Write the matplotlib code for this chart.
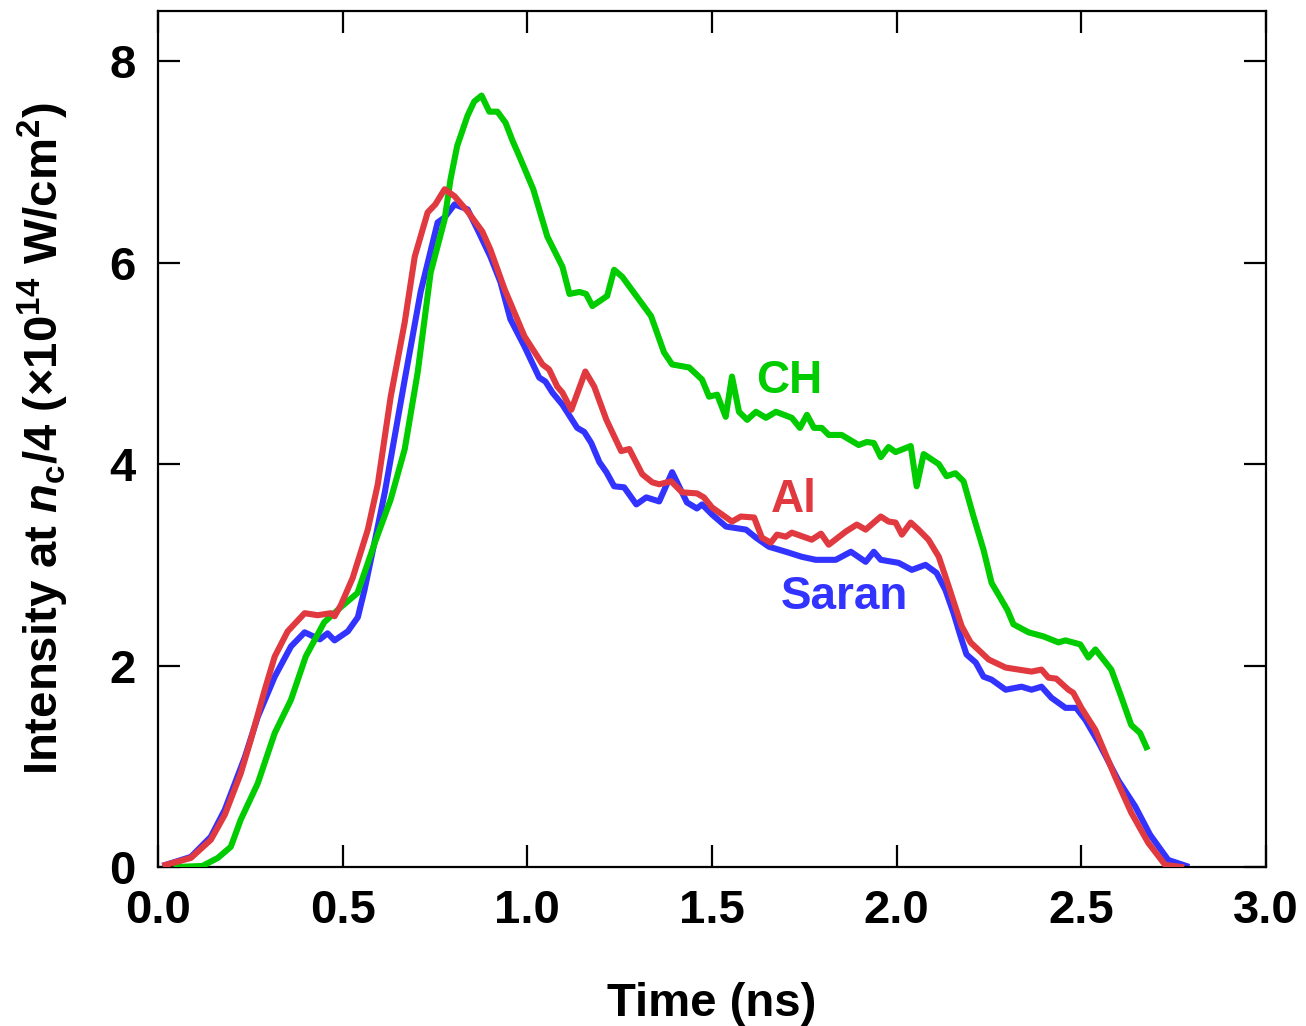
import matplotlib
matplotlib.use("Agg")
import matplotlib.pyplot as plt

# 字体设置
plt.rcParams['font.family'] = ['Liberation Sans', 'DejaVu Sans']
plt.rcParams['font.weight'] = 'bold'
plt.rcParams['mathtext.fontset'] = 'custom'
plt.rcParams['mathtext.rm'] = 'Liberation Sans:bold'
plt.rcParams['mathtext.it'] = 'Liberation Sans:bold:italic'
plt.rcParams['mathtext.bf'] = 'Liberation Sans:bold'

# CH 数据
t_ch = [0.05, 0.12, 0.162, 0.197, 0.224, 0.27, 0.316, 0.36, 0.40, 0.45, 0.495, 0.54,
        0.587, 0.63, 0.668, 0.703, 0.738, 0.776, 0.792, 0.81, 0.838, 0.856, 0.876,
        0.897, 0.919, 0.941, 0.96, 0.978, 1.016, 1.054, 1.095, 1.114, 1.141, 1.159,
        1.176, 1.216, 1.235, 1.257, 1.295, 1.335, 1.370, 1.392, 1.438, 1.473, 1.492,
        1.514, 1.537, 1.554, 1.573, 1.595, 1.619, 1.646, 1.673, 1.716, 1.738, 1.757,
        1.776, 1.797, 1.816, 1.851, 1.897, 1.919, 1.938, 1.957, 1.978, 1.997, 2.038,
        2.054, 2.073, 2.114, 2.135, 2.159, 2.181, 2.208, 2.235, 2.257, 2.281, 2.30,
        2.316, 2.357, 2.397, 2.438, 2.457, 2.497, 2.519, 2.538, 2.581, 2.608, 2.635,
        2.659, 2.676]
y_ch = [0.0, 0.01, 0.09, 0.20, 0.47, 0.83, 1.33, 1.66, 2.09, 2.43, 2.58, 2.72,
        3.22, 3.65, 4.15, 4.91, 5.90, 6.43, 6.83, 7.16, 7.46, 7.60, 7.66,
        7.50, 7.50, 7.39, 7.21, 7.06, 6.73, 6.26, 5.96, 5.69, 5.71, 5.69,
        5.57, 5.67, 5.93, 5.86, 5.67, 5.47, 5.11, 4.99, 4.96, 4.84, 4.67,
        4.69, 4.47, 4.87, 4.52, 4.44, 4.52, 4.46, 4.52, 4.46, 4.36, 4.49,
        4.36, 4.36, 4.29, 4.29, 4.19, 4.22, 4.21, 4.07, 4.17, 4.12, 4.18,
        3.78, 4.10, 4.00, 3.88, 3.91, 3.83, 3.48, 3.15, 2.82, 2.67, 2.55,
        2.41, 2.33, 2.29, 2.23, 2.25, 2.21, 2.08, 2.16, 1.96, 1.69, 1.41,
        1.33, 1.19]

# Al 数据
t_al = [0.02, 0.089, 0.143, 0.181, 0.224, 0.251, 0.289, 0.316, 0.351, 0.397, 0.432,
        0.468, 0.478, 0.495, 0.527, 0.568, 0.595, 0.630, 0.668, 0.695, 0.730, 0.751,
        0.776, 0.803, 0.838, 0.878, 0.900, 0.938, 0.992, 1.041, 1.059, 1.081, 1.095,
        1.119, 1.157, 1.181, 1.214, 1.254, 1.276, 1.311, 1.338, 1.357, 1.389, 1.419,
        1.459, 1.478, 1.500, 1.554, 1.578, 1.614, 1.635, 1.659, 1.676, 1.700, 1.716,
        1.770, 1.795, 1.816, 1.862, 1.892, 1.916, 1.957, 1.978, 1.997, 2.014, 2.038,
        2.059, 2.086, 2.114, 2.135, 2.159, 2.176, 2.200, 2.249, 2.295, 2.365, 2.392,
        2.411, 2.432, 2.465, 2.478, 2.500, 2.538, 2.592, 2.635, 2.681, 2.727, 2.770]
y_al = [0.02, 0.09, 0.27, 0.52, 0.93, 1.26, 1.76, 2.09, 2.34, 2.52, 2.50,
        2.52, 2.49, 2.60, 2.87, 3.35, 3.80, 4.67, 5.41, 6.06, 6.50, 6.58,
        6.73, 6.66, 6.51, 6.31, 6.13, 5.74, 5.27, 4.99, 4.94, 4.77, 4.71,
        4.54, 4.92, 4.77, 4.44, 4.13, 4.15, 3.90, 3.82, 3.80, 3.83, 3.72,
        3.71, 3.67, 3.57, 3.43, 3.48, 3.47, 3.27, 3.22, 3.30, 3.28, 3.32,
        3.25, 3.31, 3.20, 3.33, 3.40, 3.35, 3.48, 3.43, 3.42, 3.30, 3.42,
        3.35, 3.25, 3.08, 2.85, 2.58, 2.39, 2.23, 2.06, 1.98, 1.94, 1.96,
        1.88, 1.87, 1.76, 1.73, 1.58, 1.36, 0.89, 0.54, 0.24, 0.02, 0.0]

# Saran 数据
t_sa = [0.02, 0.089, 0.143, 0.181, 0.235, 0.270, 0.316, 0.360, 0.397, 0.438, 0.459,
        0.478, 0.514, 0.541, 0.559, 0.586, 0.614, 0.668, 0.711, 0.757, 0.776, 0.803,
        0.838, 0.865, 0.900, 0.927, 0.954, 0.992, 1.032, 1.049, 1.068, 1.095, 1.135,
        1.154, 1.173, 1.195, 1.214, 1.235, 1.262, 1.295, 1.322, 1.357, 1.392, 1.432,
        1.459, 1.473, 1.500, 1.538, 1.592, 1.619, 1.654, 1.700, 1.743, 1.781, 1.835,
        1.876, 1.916, 1.938, 1.957, 2.005, 2.041, 2.078, 2.108, 2.132, 2.154, 2.173,
        2.189, 2.214, 2.235, 2.257, 2.295, 2.338, 2.365, 2.392, 2.419, 2.457, 2.486,
        2.511, 2.546, 2.600, 2.646, 2.686, 2.735, 2.784]
y_sa = [0.02, 0.10, 0.30, 0.57, 1.09, 1.49, 1.89, 2.19, 2.33, 2.26, 2.32,
        2.25, 2.34, 2.48, 2.75, 3.22, 3.72, 4.84, 5.71, 6.40, 6.45, 6.58,
        6.53, 6.33, 6.06, 5.81, 5.44, 5.17, 4.86, 4.82, 4.71, 4.59, 4.36,
        4.32, 4.21, 4.02, 3.92, 3.78, 3.77, 3.60, 3.67, 3.63, 3.92, 3.62,
        3.56, 3.60, 3.50, 3.38, 3.35, 3.27, 3.18, 3.13, 3.08, 3.05, 3.05,
        3.13, 3.03, 3.13, 3.05, 3.02, 2.95, 3.00, 2.92, 2.75, 2.52, 2.29,
        2.11, 2.03, 1.89, 1.86, 1.76, 1.79, 1.76, 1.79, 1.68, 1.58, 1.58,
        1.46, 1.24, 0.86, 0.60, 0.32, 0.07, 0.01]

# 标签
labels = ['CH', 'Al', 'Saran']
label_x = [1.708, 1.722, 1.859]
label_y = [4.83, 3.64, 2.68]

c_ch = '#00CC00'
c_al = '#E03A40'
c_sa = '#3333FF'

fig = plt.figure(figsize=(13.06, 10.26), dpi=100)
ax = fig.add_axes([0.121, 0.155, 0.8484, 0.8343])

ax.plot(t_sa, y_sa, color=c_sa, lw=4.4, zorder=2)
ax.plot(t_ch, y_ch, color=c_ch, lw=4.4, zorder=3)
ax.plot(t_al, y_al, color=c_al, lw=4.4, zorder=4)

for lab, x, y, c in zip(labels, label_x, label_y, [c_ch, c_al, c_sa]):
    ax.text(x, y, lab, color=c, fontsize=33, fontweight='bold', ha='center', va='center')

ax.set_xlim(0, 3.0)
ax.set_ylim(0, 8.5)
ax.set_xticks([0.0, 0.5, 1.0, 1.5, 2.0, 2.5, 3.0])
ax.set_xticklabels(['0.0', '0.5', '1.0', '1.5', '2.0', '2.5', '3.0'])
ax.set_yticks([0, 2, 4, 6, 8])

ax.tick_params(direction='in', length=16, width=1.6, top=True, right=True,
               labelsize=34, pad=16)
for s in ax.spines.values():
    s.set_linewidth(1.6)

ax.set_xlabel('Time (ns)', fontsize=34, fontweight='bold', labelpad=35)
ax.set_ylabel(r'Intensity at $n_\mathrm{c}$/4 ($\times$10$^{14}$ W/cm$^{2}$)',
              fontsize=34, fontweight='bold', labelpad=28)

plt.savefig('out.png', dpi=100)
